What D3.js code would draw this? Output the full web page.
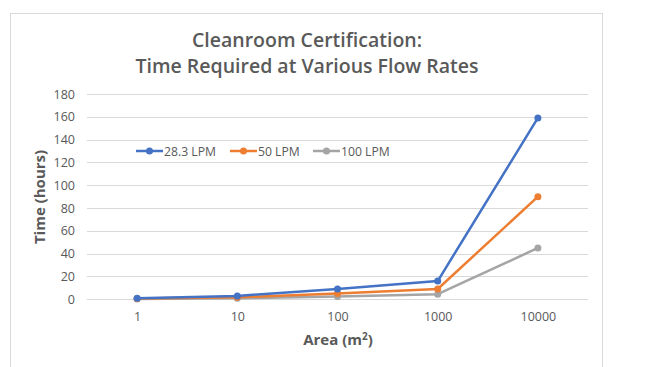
<!DOCTYPE html>
<html><head><meta charset="utf-8">
<script src="https://cdn.jsdelivr.net/npm/d3@7"></script>
<style>body{margin:0;background:#fff}svg{display:block}</style>
</head><body><div id="c"></div>
<script>
const categories = ["1","10","100","1000","10000"];
const seriesNames = ["28.3 LPM","50 LPM","100 LPM"];
const s283 = [1, 3, 9, 16, 159];
const s50 = [0.6, 1.8, 5, 9, 90];
const s100 = [0.3, 0.9, 2.5, 4.5, 45];
const yTicks = [0,20,40,60,80,100,120,140,160,180];
const colors = ["#4472C4","#ED7D31","#A5A5A5"];
const seriesValues = [s283, s50, s100];

const W=648,H=367;
const svg=d3.select("#c").append("svg").attr("width",W).attr("height",H);
const font="'Open Sans', sans-serif";
svg.append("rect").attr("x",10.5).attr("y",13.5).attr("width",592).attr("height",H).attr("fill","#fff").attr("stroke","#D9D9D9");

const x=d3.scalePoint().domain(categories).range([87,588]).padding(0.5);
const y=d3.scaleLinear().domain([0,180]).range([299.3,94]);

// grid
svg.append("g").selectAll("line").data(yTicks).join("line")
 .attr("x1",87).attr("x2",588).attr("y1",d=>Math.round(y(d))+0.5).attr("y2",d=>Math.round(y(d))+0.5)
 .attr("stroke","#D9D9D9").attr("stroke-width",1);

const ya=svg.append("g").attr("transform","translate(87,0)").call(d3.axisLeft(y).tickValues(yTicks).tickSize(0).tickPadding(12));
ya.select(".domain").remove();
ya.selectAll("text").attr("font-family",font).attr("font-size",12.5).attr("fill","#595959");

const xa=svg.append("g").attr("transform","translate(0,299.3)").call(d3.axisBottom(x).tickSize(0).tickPadding(13));
xa.select(".domain").remove();
xa.selectAll("text").attr("font-family",font).attr("font-size",12.5).attr("fill","#595959");

// lines
const line=d3.line().x((d,i)=>x(categories[i])).y(d=>y(d));
seriesValues.slice().reverse().forEach((vals,ri)=>{
  const i=seriesValues.length-1-ri;
  svg.append("path").datum(vals).attr("d",line).attr("fill","none").attr("stroke",colors[i]).attr("stroke-width",2.5).attr("stroke-linejoin","round");
  svg.append("g").selectAll("circle").data(vals).join("circle")
   .attr("cx",(d,j)=>x(categories[j])).attr("cy",d=>y(d)).attr("r",3.5).attr("fill",colors[i]);
});

// title
const t=svg.append("text").attr("text-anchor","middle").attr("font-family",font).attr("font-weight","600").attr("font-size",19.5).attr("fill","#595959");
t.append("tspan").attr("x",307).attr("y",47).text("Cleanroom Certification:");
t.append("tspan").attr("x",307).attr("y",73).text("Time Required at Various Flow Rates");

// axis titles
svg.append("text").attr("transform","translate(45,197) rotate(-90)").attr("text-anchor","middle")
 .attr("font-family",font).attr("font-weight","bold").attr("font-size",15).attr("fill","#595959").text("Time (hours)");
const xt=svg.append("text").attr("x",338).attr("y",345).attr("text-anchor","middle")
 .attr("font-family",font).attr("font-weight","bold").attr("font-size",15).attr("fill","#595959");
xt.append("tspan").text("Area (m");
xt.append("tspan").attr("font-size",10).attr("dy",-5).text("2");
xt.append("tspan").attr("dy",5).text(")");

// legend
const lx=[136,230,313];
const lg=svg.append("g");
seriesNames.forEach((n,i)=>{
  const g=lg.append("g").attr("transform",`translate(${lx[i]},151)`);
  g.append("line").attr("x1",0).attr("x2",27).attr("stroke",colors[i]).attr("stroke-width",2.5);
  g.append("circle").attr("cx",13.5).attr("r",3.5).attr("fill",colors[i]);
  g.append("text").attr("x",28).attr("y",4.5).attr("font-family",font).attr("font-size",12.2).attr("fill","#595959").text(n);
});
</script></body></html>
